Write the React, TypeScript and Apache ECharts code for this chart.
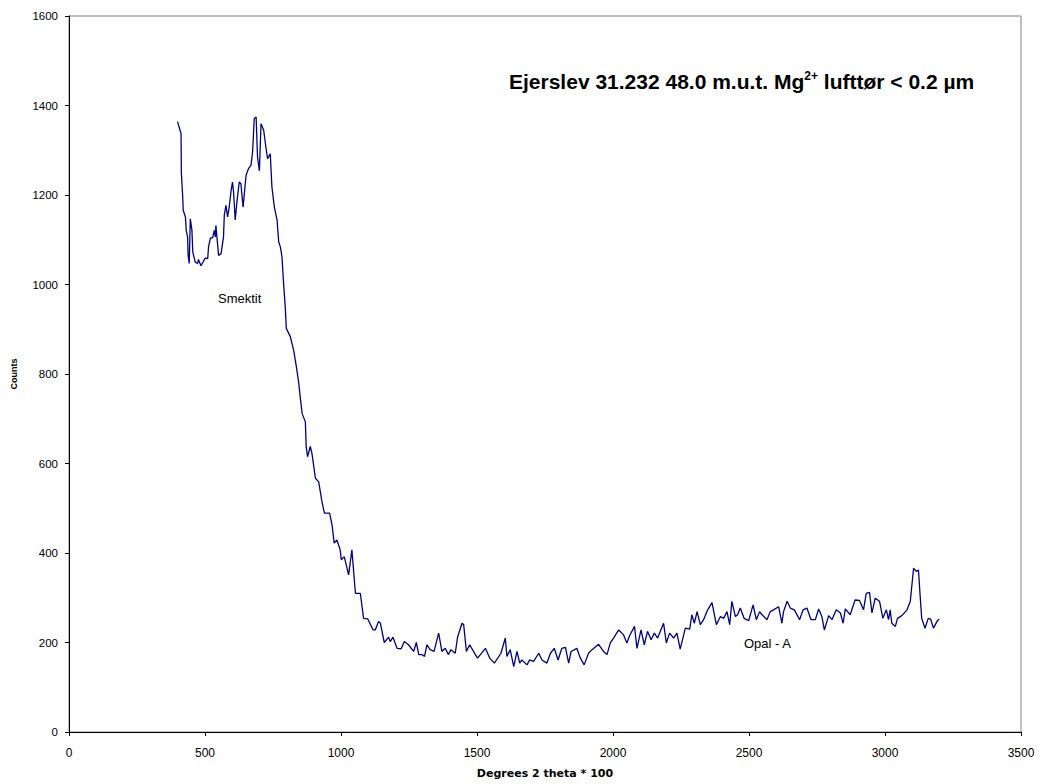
import React, { useEffect, useRef } from "react";
import * as echarts from "echarts";

const xValues: number[] = [
  399, 412, 413, 418, 420, 428, 431, 436, 438, 442, 446, 452, 455, 464, 473, 476, 485, 501, 510, 513,
  520, 528, 534, 538, 540, 550, 559, 568, 571, 577, 583, 589, 596, 601, 605, 611, 618, 626, 632, 640,
  651, 660, 669, 675, 681, 688, 693, 700, 706, 716, 722, 730, 740, 746, 755, 765, 771, 777, 783, 789,
  795, 799, 814, 826, 836, 844, 850, 857, 869, 872, 877, 887, 893, 906, 918, 930, 939, 958, 967, 975,
  985, 997, 1001, 1012, 1028, 1040, 1053, 1071, 1083, 1098, 1118, 1126, 1138, 1145, 1159, 1175, 1181, 1191, 1206, 1221,
  1233, 1248, 1267, 1277, 1286, 1298, 1307, 1316, 1328, 1342, 1359, 1371, 1383, 1395, 1404, 1420, 1429, 1445, 1451, 1461,
  1473, 1494, 1502, 1531, 1547, 1564, 1588, 1604, 1610, 1622, 1635, 1647, 1657, 1665, 1684, 1693, 1708, 1727, 1739, 1757,
  1770, 1784, 1798, 1812, 1825, 1837, 1846, 1867, 1880, 1894, 1910, 1923, 1947, 1965, 1978, 1990, 2002, 2021, 2039, 2051,
  2061, 2079, 2088, 2103, 2115, 2127, 2140, 2152, 2164, 2186, 2196, 2208, 2223, 2235, 2247, 2266, 2282, 2290, 2299, 2309,
  2321, 2333, 2348, 2364, 2380, 2395, 2407, 2419, 2429, 2437, 2450, 2458, 2468, 2482, 2499, 2515, 2527, 2539, 2548, 2566,
  2578, 2590, 2609, 2621, 2627, 2640, 2652, 2667, 2686, 2699, 2713, 2728, 2744, 2756, 2768, 2777, 2793, 2805, 2821, 2836,
  2846, 2854, 2872, 2890, 2906, 2921, 2931, 2943, 2952, 2964, 2980, 2992, 3005, 3013, 3019, 3025, 3038, 3046, 3062, 3081,
  3093, 3105, 3115, 3123, 3129, 3135, 3147, 3159, 3168, 3178, 3193, 3200,
];

const counts: number[] = [
  1364, 1337, 1251, 1196, 1166, 1151, 1121, 1106, 1065, 1047, 1147, 1121, 1073, 1050, 1047, 1056, 1042, 1059, 1058, 1084,
  1104, 1104, 1121, 1106, 1132, 1065, 1069, 1106, 1155, 1177, 1151, 1173, 1210, 1229, 1207, 1144, 1188, 1229, 1225, 1173,
  1244, 1259, 1266, 1296, 1371, 1374, 1285, 1254, 1359, 1344, 1315, 1281, 1292, 1218, 1173, 1144, 1095, 1084, 1062, 1002,
  950, 902, 883, 853, 816, 783, 749, 712, 693, 638, 615, 638, 623, 567, 559, 515, 489, 489, 463, 422,
  429, 407, 385, 392, 351, 407, 310, 310, 254, 253, 228, 228, 247, 243, 200, 212, 202, 212, 187, 186,
  202, 195, 180, 200, 173, 173, 169, 195, 184, 180, 221, 180, 187, 173, 184, 176, 213, 243, 240, 180,
  195, 173, 165, 187, 165, 154, 176, 210, 169, 184, 146, 180, 154, 161, 150, 161, 158, 176, 161, 154,
  176, 187, 161, 187, 189, 154, 180, 187, 165, 150, 176, 184, 196, 180, 173, 199, 210, 228, 217, 199,
  215, 236, 187, 228, 195, 225, 206, 221, 210, 243, 199, 221, 210, 221, 185, 232, 230, 262, 243, 269,
  240, 251, 273, 289, 240, 258, 254, 269, 240, 292, 258, 262, 277, 254, 249, 284, 251, 269, 262, 251,
  269, 273, 280, 243, 269, 292, 277, 273, 251, 273, 277, 251, 251, 275, 258, 228, 260, 251, 273, 266,
  243, 275, 262, 295, 294, 273, 310, 312, 266, 299, 292, 254, 273, 251, 273, 243, 236, 254, 260, 273,
  292, 366, 359, 362, 306, 254, 232, 254, 252, 232, 249, 252,
];

const xTicks: number[] = [0, 500, 1000, 1500, 2000, 2500, 3000, 3500];
const yTicks: number[] = [0, 200, 400, 600, 800, 1000, 1200, 1400, 1600];

const FONT = "Arial, 'Liberation Sans', sans-serif";

export default function App() {
  const ref = useRef<HTMLDivElement>(null);
  useEffect(() => {
    if (!ref.current) return;
    const chart = echarts.init(ref.current, undefined, { renderer: "svg" });
    const data = xValues.map((x, i) => [x, counts[i]]);
    chart.setOption({
      animation: false,
      grid: {
        left: 69,
        top: 16,
        right: 18,
        bottom: 52,
        show: true,
        borderColor: "#808080",
        borderWidth: 1,
        backgroundColor: "transparent",
      },
      xAxis: {
        type: "value",
        min: xTicks[0],
        max: xTicks[xTicks.length - 1],
        interval: 500,
        name: "Degrees 2 theta * 100",
        nameLocation: "middle",
        nameGap: 36,
        nameTextStyle: { fontFamily: "'DejaVu Sans', sans-serif", fontSize: 11, fontWeight: "bold", color: "#000" },
        axisLine: { show: true, onZero: false, lineStyle: { color: "#000", width: 1 } },
        axisTick: { show: true, length: 4, lineStyle: { color: "#000" } },
        axisLabel: {
          fontFamily: FONT,
          fontSize: 12,
          color: "#000",
          margin: 15,
          formatter: (v: number) => String(v),
        },
        splitLine: { show: false },
      },
      yAxis: {
        type: "value",
        min: yTicks[0],
        max: yTicks[yTicks.length - 1],
        interval: 200,
        name: "Counts",
        nameLocation: "middle",
        nameGap: 51,
        nameRotate: 90,
        nameTextStyle: { fontFamily: FONT, fontSize: 9, fontWeight: "bold", color: "#000" },
        axisLine: { show: true, onZero: false, lineStyle: { color: "#000", width: 1 } },
        axisTick: { show: true, length: 4, lineStyle: { color: "#000" } },
        axisLabel: {
          fontFamily: FONT,
          fontSize: 11.5,
          color: "#000",
          margin: 11,
          formatter: (v: number) => String(v),
        },
        splitLine: { show: false },
      },
      series: [
        {
          type: "line",
          data,
          showSymbol: false,
          symbol: "none",
          lineStyle: { color: "#000080", width: 1.3 },
          z: 3,
        },
      ],
      graphic: [
        {
          type: "text",
          left: 509,
          top: 70,
          style: {
            text: "{a|Ejerslev 31.232 48.0 m.u.t. Mg}{s|2+}{a| lufttør < 0.2 µm}",
            rich: {
              a: { fontFamily: FONT, fontSize: 21, fontWeight: "bold", fill: "#000", lineHeight: 22, verticalAlign: "bottom" },
              s: { fontFamily: FONT, fontSize: 12, fontWeight: "bold", fill: "#000", lineHeight: 22, verticalAlign: "top" },
            },
          },
        },
        {
          type: "text",
          left: 218,
          top: 292,
          style: { text: "Smektit", fontFamily: FONT, fontSize: 13, fill: "#000" },
        },
        {
          type: "text",
          left: 744,
          top: 637,
          style: { text: "Opal - A", fontFamily: FONT, fontSize: 13, fill: "#000" },
        },
      ],
    });
    return () => chart.dispose();
  }, []);
  return (
    <div
      ref={ref}
      style={{ position: "fixed", left: 0, top: 0, width: 1039, height: 784, background: "#fff" }}
    />
  );
}
